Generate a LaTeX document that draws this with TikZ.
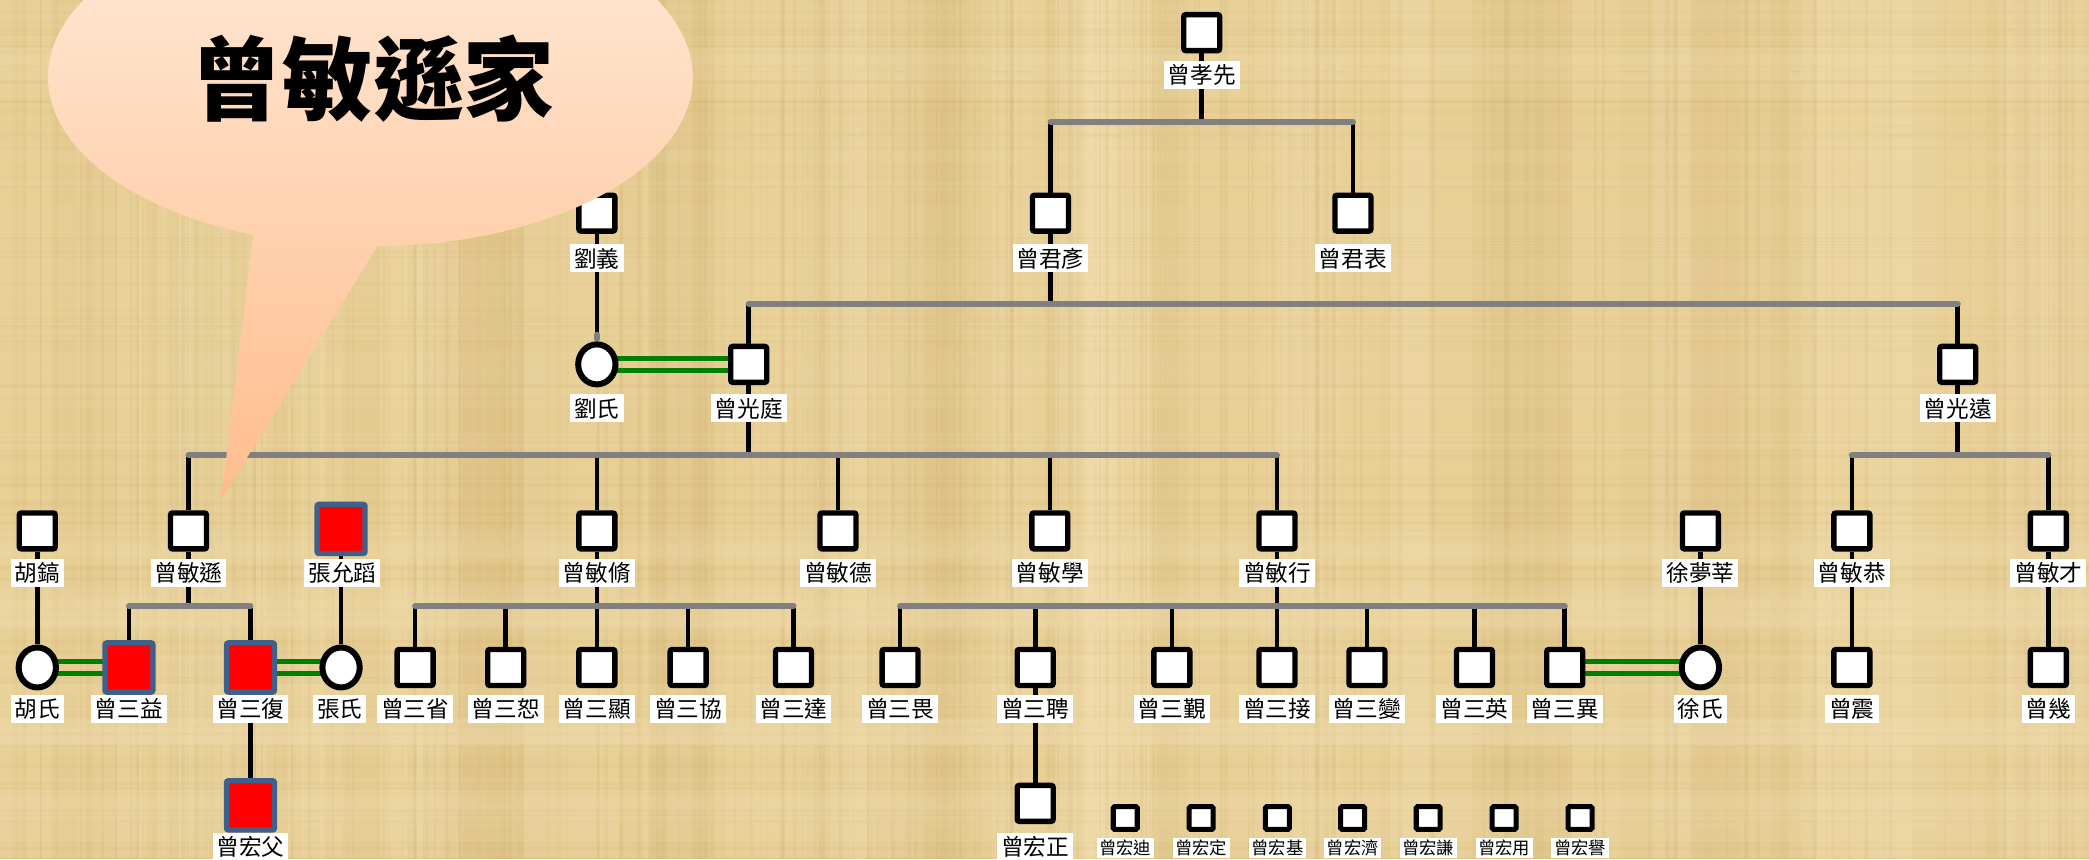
\documentclass[tikz,border=0pt]{standalone}
\usepackage{fontspec}
\newfontfamily\cjk{Noto Sans CJK TC}
\usetikzlibrary{shapes.geometric,calc}
\pgfdeclarelayer{back}
\pgfdeclarelayer{bg}
\pgfdeclarelayer{front}
\pgfsetlayers{back,bg,main,front}
\definecolor{paper}{RGB}{231,207,150}
\definecolor{paperdark}{RGB}{200,166,96}
\definecolor{paperlight}{RGB}{245,226,182}
\definecolor{barg}{RGB}{128,128,128}
\definecolor{marryg}{RGB}{0,128,0}
\definecolor{redb}{RGB}{64,96,140}
\definecolor{peachtop}{RGB}{255,234,216}
\definecolor{peachbot}{RGB}{255,188,140}
\begin{document}
\begin{tikzpicture}[x=1pt,y=-1pt,
 mbox/.style={draw=black, line width=4pt, fill=white, minimum width=27pt, minimum height=27pt, inner sep=0pt, rounded corners=1.5pt},
 rbox/.style={draw=redb, line width=4pt, fill=red, minimum width=36pt, minimum height=37pt, inner sep=0pt, rounded corners=1.5pt},
 fbox/.style={ellipse, draw=black, line width=4.5pt, fill=white, minimum width=28pt, minimum height=30pt, inner sep=0pt},
 sbox/.style={draw=black, line width=3.8pt, fill=white, minimum width=18pt, minimum height=17pt, inner sep=0pt, rounded corners=1pt},
 lab/.style={fill=white, inner xsep=3pt, inner ysep=2pt, text height=15pt, text depth=2pt, font=\cjk\fontsize{17}{17}\selectfont},
 slab/.style={fill=white, inner xsep=2pt, inner ysep=1pt, text height=11.5pt, text depth=1.5pt, font=\cjk\fontsize{13}{13}\selectfont},
 vl/.style={black, line width=3.5pt},
 bar/.style={barg, line width=4.5pt, line cap=round},
 marry/.style={marryg, line width=3.8pt},
]
\useasboundingbox (0,0) rectangle (1568,645);
\clip (0,0) rectangle (1568,645);

% ---------- background parchment ----------
\begin{pgfonlayer}{back}
\fill[paper] (0,0) rectangle (1568,645);
\pgfmathsetseed{42}
\foreach \i in {1,...,40}{
  \pgfmathsetmacro\xx{rnd*1568}
  \pgfmathsetmacro\ww{15+rnd*50}
  \pgfmathsetmacro\oo{0.04+rnd*0.08}
  \fill[paperdark, opacity=\oo] (\xx,0) rectangle ++(\ww,645);
}
\foreach \i in {1,...,40}{
  \pgfmathsetmacro\xx{rnd*1568}
  \pgfmathsetmacro\ww{10+rnd*40}
  \pgfmathsetmacro\oo{0.08+rnd*0.15}
  \fill[paperlight, opacity=\oo] (\xx,0) rectangle ++(\ww,645);
}
\foreach \i in {1,...,220}{
  \pgfmathsetmacro\xx{rnd*1568}
  \pgfmathsetmacro\ww{0.8+rnd*2.5}
  \pgfmathsetmacro\oo{0.05+rnd*0.10}
  \fill[paperdark, opacity=\oo] (\xx,0) rectangle ++(\ww,645);
}
\foreach \i in {1,...,100}{
  \pgfmathsetmacro\yy{rnd*645}
  \pgfmathsetmacro\hh{0.8+rnd*2}
  \pgfmathsetmacro\oo{0.03+rnd*0.07}
  \fill[paperdark, opacity=\oo] (0,\yy) rectangle ++(1568,\hh);
}
\foreach \i in {1,...,40}{
  \pgfmathsetmacro\yy{rnd*645}
  \pgfmathsetmacro\hh{5+rnd*25}
  \pgfmathsetmacro\oo{0.05+rnd*0.10}
  \fill[paperlight, opacity=\oo] (0,\yy) rectangle ++(1568,\hh);
}
\end{pgfonlayer}

% ---------- people ----------
% generation A
\node[mbox] (a1) at (902,24.5) {};
\node[lab] (a1l) at (902,56) {曾孝先};
% generation B
\node[mbox] (b1) at (448,160) {};   \node[lab] (b1l) at (448,194) {劉義};
\node[mbox] (b2) at (788.5,160) {}; \node[lab] (b2l) at (788.5,194) {曾君彥};
\node[mbox] (b3) at (1015.5,160) {};\node[lab] (b3l) at (1015.5,194) {曾君表};
% generation C
\node[fbox] (c1) at (448,273.5) {};  \node[lab] (c1l) at (448,306.5) {劉氏};
\node[mbox] (c2) at (562,273.5) {};  \node[lab] (c2l) at (562,306.5) {曾光庭};
\node[mbox] (c3) at (1469.5,273.5) {};\node[lab] (c3l) at (1469.5,306.5) {曾光遠};
% generation D
\node[mbox] (d1) at (28,398.5) {};    \node[lab] (d1l) at (28,430) {胡鎬};
\node[mbox] (d2) at (141.5,398.5) {}; \node[lab] (d2l) at (141.5,430) {曾敏遜};
\node[rbox] (d3) at (256,397) {};     \node[lab] (d3l) at (257,430) {張允蹈};
\node[mbox] (d4) at (448,398.5) {};   \node[lab] (d4l) at (448,430) {曾敏脩};
\node[mbox] (d5) at (629,398.5) {};   \node[lab] (d5l) at (629,430) {曾敏德};
\node[mbox] (d6) at (788,398.5) {};   \node[lab] (d6l) at (788,430) {曾敏學};
\node[mbox] (d7) at (958.5,398.5) {}; \node[lab] (d7l) at (958.5,430) {曾敏行};
\node[mbox] (d8) at (1276.3,398.5) {};\node[lab] (d8l) at (1276.3,430) {徐夢莘};
\node[mbox] (d9) at (1390,398.5) {};  \node[lab] (d9l) at (1390,430) {曾敏恭};
\node[mbox] (d10) at (1537.5,398.5) {};\node[lab] (d10l) at (1537.5,430) {曾敏才};
% generation E
\node[fbox] (e1) at (28,501) {};      \node[lab] (e1l) at (28,532) {胡氏};
\node[rbox] (e2) at (96.8,501) {};    \node[lab] (e2l) at (96.8,532) {曾三益};
\node[rbox] (e3) at (188,501) {};     \node[lab] (e3l) at (188,532) {曾三復};
\node[fbox] (e4) at (256,501) {};     \node[lab] (e4l) at (255,532) {張氏};
\node[mbox] (e5) at (311.6,501) {};   \node[lab] (e5l) at (311.6,532) {曾三省};
\node[mbox] (e6) at (379.6,501) {};   \node[lab] (e6l) at (379.6,532) {曾三恕};
\node[mbox] (e7) at (448,501) {};     \node[lab] (e7l) at (448,532) {曾三顯};
\node[mbox] (e8) at (516.5,501) {};   \node[lab] (e8l) at (516.5,532) {曾三協};
\node[mbox] (e9) at (595.6,501) {};   \node[lab] (e9l) at (595.6,532) {曾三達};
\node[mbox] (e10) at (675.6,501) {};  \node[lab] (e10l) at (675.6,532) {曾三畏};
\node[mbox] (e11) at (777,501) {};    \node[lab] (e11l) at (777,532) {曾三聘};
\node[mbox] (e12) at (879.6,501) {};  \node[lab] (e12l) at (879.6,532) {曾三覲};
\node[mbox] (e13) at (958.5,501) {};  \node[lab] (e13l) at (958.5,532) {曾三接};
\node[mbox] (e14) at (1026,501) {};   \node[lab] (e14l) at (1026,532) {曾三變};
\node[mbox] (e15) at (1106.7,501) {}; \node[lab] (e15l) at (1106.7,532) {曾三英};
\node[mbox] (e16) at (1174.5,501) {}; \node[lab] (e16l) at (1174.5,532) {曾三異};
\node[fbox] (e17) at (1276.3,501) {}; \node[lab] (e17l) at (1276.3,532) {徐氏};
\node[mbox] (e18) at (1390,501) {};   \node[lab] (e18l) at (1390,532) {曾震};
\node[mbox] (e19) at (1537.5,501) {}; \node[lab] (e19l) at (1537.5,532) {曾幾};
% generation F
\node[rbox] (f1) at (188,604.5) {};   \node[lab] (f1l) at (188,635.5) {曾宏父};
\node[mbox] (f2) at (777,603) {};     \node[lab] (f2l) at (777,635.5) {曾宏正};
\node[sbox] (s1) at (844.6,614) {};   \node[slab] (s1l) at (844.6,636.5) {曾宏迪};
\node[sbox] (s2) at (901.6,614) {};   \node[slab] (s2l) at (901.6,636.5) {曾宏定};
\node[sbox] (s3) at (958.8,614) {};   \node[slab] (s3l) at (958.8,636.5) {曾宏基};
\node[sbox] (s4) at (1015.3,614) {};  \node[slab] (s4l) at (1015.3,636.5) {曾宏濟};
\node[sbox] (s5) at (1072,614) {};    \node[slab] (s5l) at (1072,636.5) {曾宏謙};
\node[sbox] (s6) at (1129,614) {};    \node[slab] (s6l) at (1129,636.5) {曾宏用};
\node[sbox] (s7) at (1186,614) {};    \node[slab] (s7l) at (1186,636.5) {曾宏譽};

% sibling-bar levels
\coordinate (k1) at (902,91.5);
\coordinate (k2) at (788.5,228);
\coordinate (k3) at (562,341.5);
\coordinate (k4) at (1469.5,341.5);
\coordinate (k5) at (141.5,455);
\coordinate (k6) at (448,455);
\coordinate (k7) at (958.5,455);

% ---------- connectors ----------
\begin{pgfonlayer}{bg}
% descent lines
\draw[vl] (a1) -- (a1 |- k1);
\foreach \c in {b2,b3} \draw[vl] (k1 -| \c) -- (\c);
\draw[vl] (b2) -- (b2 |- k2);
\foreach \c in {c2,c3} \draw[vl] (k2 -| \c) -- (\c);
\draw[vl] (b1) -- (c1);
\draw[vl] (c2) -- (c2 |- k3);
\foreach \c in {d2,d4,d5,d6,d7} \draw[vl] (k3 -| \c) -- (\c);
\draw[vl] (c3) -- (c3 |- k4);
\foreach \c in {d9,d10} \draw[vl] (k4 -| \c) -- (\c);
\draw[vl] (d1) -- (e1);
\draw[vl] (d3) -- (e4);
\draw[vl] (d2) -- (d2 |- k5);
\foreach \c in {e2,e3} \draw[vl] (k5 -| \c) -- (\c);
\draw[vl] (d4) -- (d4 |- k6);
\foreach \c in {e5,e6,e7,e8,e9} \draw[vl] (k6 -| \c) -- (\c);
\draw[vl] (d7) -- (d7 |- k7);
\foreach \c in {e10,e11,e12,e13,e14,e15,e16} \draw[vl] (k7 -| \c) -- (\c);
\draw[vl] (d8) -- (e17);
\draw[vl] (d9) -- (e18);
\draw[vl] (d10) -- (e19);
\draw[vl] (e3) -- (f1);
\draw[vl] (e11) -- (f2);
% sibling bars
\draw[bar] (b2 |- k1) -- (b3 |- k1);
\draw[bar] (c2 |- k2) -- (c3 |- k2);
\draw[bar] (d2 |- k3) -- (d7 |- k3);
\draw[bar] (d9 |- k4) -- (d10 |- k4);
\draw[bar] (e2 |- k5) -- (e3 |- k5);
\draw[bar] (e5 |- k6) -- (e9 |- k6);
\draw[bar] (e10 |- k7) -- (e16 |- k7);
\draw[bar] ($(c1.north)+(0,-5)$) -- ($(c1.north)+(0,-2)$);
% marriages
\foreach \s in {-4.4,4.4}{
  \draw[marry] ([yshift=\s pt]c1.center) -- ([yshift=\s pt]c2.center);
  \draw[marry] ([yshift=\s pt]e1.center) -- ([yshift=\s pt]e2.center);
  \draw[marry] ([yshift=\s pt]e3.center) -- ([yshift=\s pt]e4.center);
  \draw[marry] ([yshift=\s pt]e16.center) -- ([yshift=\s pt]e17.center);
}
\end{pgfonlayer}

% ---------- callout bubble ----------
\begin{pgfonlayer}{front}
\shade[top color=peachtop, bottom color=peachbot]
  (166,375) -- ([shift={(278,58)}]88.8:242 and 127)
  arc[start angle=88.8, end angle=-248.7, x radius=242, y radius=127] -- cycle;
\node[font=\cjk\bfseries\fontsize{68}{68}\selectfont, text height=60pt, text depth=8pt, inner sep=0pt] (title) at (280,59) {曾敏遜家};
\end{pgfonlayer}
\end{tikzpicture}
\end{document}
